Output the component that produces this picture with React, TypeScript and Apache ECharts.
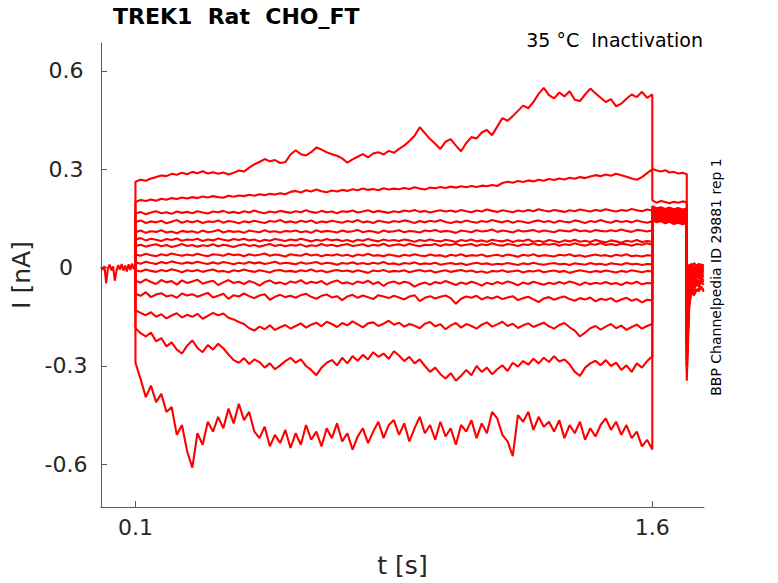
import React, { useEffect, useRef } from 'react';
import * as echarts from 'echarts';

// Holding period before the pulse (s, pA)
const PRE_T = [0, 0.005, 0.01, 0.015, 0.02, 0.025, 0.03, 0.035, 0.04, 0.045, 0.05, 0.055, 0.06, 0.065, 0.07, 0.075, 0.08, 0.085, 0.09, 0.095, 0.1];
const PRE_I = [2, -6, 5, -48, -3, 9, -8, 4, -40, -10, 8, -6, 11, -9, 6, -12, 10, -7, 12, -4, 0];

// Pulse window (s)
const PULSE_START = 0.1;
const PULSE_END = 1.6;

// Pulse currents per sweep (pA), evenly sampled from 0.1 s to 1.6 s
const PULSE_1 = [262, 268, 265, 272, 276, 281, 279, 286, 283, 289, 285,
  292, 288, 294, 287, 291, 286, 290, 284, 289, 296,
  293, 305, 315, 322, 331, 324, 328, 319, 322, 345,
  358, 346, 342, 352, 366, 360, 352, 346, 341, 333,
  320, 330, 338, 346, 336, 348, 352, 345, 356, 350,
  362, 372, 386, 402, 428, 410, 392, 378, 362, 384,
  392, 372, 355, 380, 398, 394, 412, 420, 404, 430,
  456, 448, 462, 478, 494, 486, 505, 530, 548, 526,
  516, 534, 522, 538, 512, 508, 528, 546, 532, 518,
  505, 514, 492, 500, 515, 528, 520, 536, 518, 528];
const PULSE_2 = [200, 206, 203, 208, 204, 210, 207, 212, 209, 214, 211,
  215, 212, 217, 214, 218, 215, 213, 219, 216, 220,
  218, 222, 219, 224, 221, 225, 223, 227, 224, 231,
  234, 229, 236, 232, 238, 233, 230, 235, 232, 237,
  234, 239, 236, 241, 237, 240, 236, 242, 238, 241,
  239, 243, 240, 245, 241, 238, 244, 242, 246, 243,
  247, 244, 248, 245, 249, 246, 250, 248, 252, 249,
  258, 262, 259, 264, 261, 266, 263, 268, 265, 270,
  267, 272, 269, 274, 271, 276, 273, 278, 282, 279,
  284, 280, 286, 282, 277, 272, 268, 276, 288, 300];
const PULSE_3 = [165, 170, 163, 168, 172, 166, 169, 164, 171, 167, 170,
  166, 172, 168, 165, 171, 169, 173, 167, 170, 166,
  172, 168, 174, 169, 166, 171, 168, 173, 170, 167,
  172, 169, 175, 170, 167, 173, 169, 171, 166, 172,
  170, 174, 168, 171, 175, 169, 173, 170, 167, 172,
  169, 174, 171, 176, 170, 173, 168, 172, 175, 171,
  174, 170, 176, 172, 169, 174, 171, 177, 173, 170,
  175, 172, 169, 174, 171, 176, 172, 178, 174, 171,
  176, 173, 170, 175, 172, 177, 174, 171, 176, 173,
  178, 174, 171, 176, 173, 179, 175, 172, 177, 174];
const PULSE_4 = [139, 144, 136, 141, 138, 143, 135, 140, 145, 137, 142,
  138, 143, 136, 141, 139, 144, 137, 142, 140, 135,
  141, 138, 143, 139, 136, 142, 140, 145, 138, 141,
  137, 143, 139, 144, 136, 141, 138, 143, 140, 137,
  142, 139, 145, 138, 141, 136, 143, 140, 137, 142,
  139, 144, 141, 136, 142, 138, 143, 140, 145, 139,
  136, 141, 138, 144, 140, 137, 142, 139, 145, 141,
  138, 143, 137, 142, 140, 136, 141, 144, 139, 142,
  137, 143, 140, 138, 144, 141, 136, 142, 139, 145,
  140, 137, 143, 139, 142, 138, 144, 140, 137, 141];
const PULSE_5 = [108, 113, 106, 111, 109, 114, 107, 110, 105, 112, 109,
  111, 106, 113, 108, 110, 115, 107, 112, 109, 111,
  106, 113, 110, 108, 114, 109, 111, 107, 112, 110,
  113, 108, 111, 106, 114, 109, 112, 110, 107, 113,
  109, 111, 115, 108, 112, 110, 106, 113, 109, 111,
  114, 108, 112, 110, 107, 113, 111, 115, 109, 112,
  110, 106, 113, 111, 108, 114, 110, 112, 116, 109,
  113, 111, 107, 114, 110, 112, 115, 109, 113, 111,
  108, 114, 112, 110, 116, 111, 113, 109, 115, 112,
  110, 114, 111, 116, 112, 109, 115, 113, 110, 114];
const PULSE_6 = [86, 90, 83, 88, 85, 81, 87, 84, 89, 82, 86,
  84, 88, 81, 86, 83, 89, 85, 82, 87, 84,
  88, 83, 86, 80, 85, 82, 87, 84, 81, 86,
  83, 88, 84, 80, 85, 82, 87, 83, 86, 81,
  84, 79, 85, 82, 87, 83, 80, 86, 82, 84,
  81, 86, 83, 79, 84, 81, 86, 82, 80, 85,
  82, 78, 84, 81, 86, 80, 83, 79, 85, 82,
  80, 84, 78, 83, 81, 86, 79, 82, 78, 84,
  81, 77, 83, 80, 85, 79, 82, 78, 84, 80,
  77, 83, 80, 76, 82, 79, 84, 78, 81, 79];
const PULSE_7 = [66, 70, 64, 68, 71, 65, 69, 63, 67, 72, 66,
  69, 64, 68, 66, 71, 65, 70, 67, 63, 68,
  71, 66, 69, 64, 68, 72, 66, 70, 65, 69,
  67, 71, 64, 68, 66, 72, 67, 70, 65, 69,
  72, 66, 68, 71, 65, 70, 67, 73, 66, 69,
  71, 67, 73, 68, 65, 70, 68, 72, 66, 71,
  69, 73, 67, 70, 72, 66, 71, 68, 74, 69,
  67, 72, 70, 66, 71, 69, 74, 68, 72, 70,
  73, 67, 71, 69, 74, 70, 67, 72, 70, 75,
  69, 72, 68, 73, 71, 67, 72, 70, 74, 70];
const PULSE_8 = [40, 36, 42, 38, 35, 41, 37, 43, 39, 36, 40,
  37, 42, 38, 35, 41, 39, 36, 42, 38, 40,
  35, 41, 37, 39, 43, 36, 40, 38, 34, 41,
  38, 36, 42, 37, 40, 35, 39, 37, 41, 36,
  39, 34, 40, 37, 42, 36, 38, 35, 40, 37,
  34, 39, 36, 41, 37, 35, 40, 36, 38, 33,
  39, 36, 41, 35, 38, 36, 40, 34, 37, 39,
  35, 40, 37, 33, 39, 36, 41, 35, 38, 36,
  34, 39, 37, 41, 35, 38, 33, 37, 40, 36,
  38, 34, 39, 36, 41, 35, 37, 34, 38, 36];
const PULSE_9 = [16, 12, 18, 14, 11, 17, 13, 19, 15, 12, 16,
  13, 18, 14, 11, 16, 12, 17, 14, 10, 15,
  12, 17, 13, 16, 11, 14, 18, 12, 15, 13,
  10, 16, 12, 14, 17, 11, 15, 13, 9, 14,
  12, 16, 11, 14, 10, 15, 12, 17, 11, 13,
  9, 14, 12, 16, 10, 13, 11, 15, 9, 12,
  14, 10, 13, 8, 12, 15, 11, 13, 9, 12,
  10, 14, 11, 8, 13, 10, 15, 11, 9, 12,
  14, 10, 12, 8, 13, 11, 9, 14, 10, 12,
  8, 13, 11, 9, 14, 10, 12, 8, 11, 10];
const PULSE_10 = [-8, -12, -6, -10, -13, -7, -11, -5, -9, -14, -8,
  -11, -7, -13, -9, -6, -12, -10, -14, -8, -11,
  -6, -10, -13, -8, -11, -15, -9, -7, -12, -10,
  -13, -8, -11, -6, -12, -9, -14, -10, -7, -11,
  -9, -13, -8, -12, -16, -9, -11, -7, -13, -10,
  -12, -8, -14, -10, -7, -12, -9, -15, -11, -8,
  -13, -10, -7, -12, -9, -14, -11, -16, -10, -12,
  -8, -13, -11, -9, -15, -10, -12, -8, -14, -11,
  -9, -13, -10, -16, -12, -8, -11, -14, -10, -13,
  -9, -12, -15, -10, -13, -8, -11, -14, -10, -12];
const PULSE_11 = [-40, -46, -36, -44, -50, -38, -45, -41, -52, -39, -47,
  -42, -37, -49, -44, -40, -53, -45, -38, -47, -43,
  -50, -41, -46, -55, -44, -39, -48, -45, -51, -42,
  -46, -38, -49, -43, -47, -41, -52, -44, -39, -48,
  -45, -51, -42, -47, -40, -50, -44, -56, -46, -42,
  -49, -43, -47, -58, -50, -45, -52, -44, -48, -41,
  -47, -53, -45, -50, -43, -48, -55, -46, -51, -44,
  -49, -42, -47, -54, -45, -50, -43, -48, -52, -46,
  -50, -44, -49, -42, -47, -53, -45, -51, -46, -49,
  -44, -50, -47, -53, -45, -49, -43, -51, -47, -48];
const PULSE_12 = [-80, -86, -75, -90, -82, -78, -88, -84, -92, -79, -85,
  -81, -89, -83, -77, -91, -86, -80, -95, -84, -88,
  -79, -87, -93, -85, -81, -98, -89, -83, -90, -86,
  -92, -84, -80, -89, -95, -86, -82, -91, -87, -99,
  -88, -83, -92, -85, -90, -96, -84, -88, -93, -86,
  -91, -97, -88, -84, -102, -92, -87, -94, -89, -85,
  -93, -110, -95, -88, -92, -86, -97, -90, -94, -88,
  -96, -91, -87, -99, -93, -89, -97, -105, -94, -90,
  -98, -92, -88, -96, -101, -93, -97, -91, -103, -95,
  -99, -93, -104, -97, -92, -101, -96, -106, -98, -100];
const PULSE_13 = [-130, -138, -145, -136, -150, -142, -155, -146, -139, -152, -144,
  -150, -141, -156, -147, -138, -145, -140, -153, -158, -166,
  -172, -185, -192, -180, -188, -176, -190, -182, -175, -186,
  -178, -170, -183, -174, -168, -179, -165, -172, -181, -169,
  -176, -164, -173, -182, -170, -167, -178, -171, -162, -174,
  -168, -180, -172, -177, -185, -171, -166, -179, -173, -188,
  -176, -169, -183, -172, -178, -186, -174, -167, -180, -173,
  -165, -178, -171, -184, -176, -170, -181, -174, -168, -179,
  -186, -175, -169, -182, -192, -210, -198, -185, -178, -189,
  -180, -172, -185, -177, -190, -181, -174, -186, -178, -172];
const PULSE_14 = [-185, -200, -210, -198, -225, -215, -240, -228, -250, -262, -238,
  -222, -245, -258, -236, -250, -232, -246, -265, -282, -290,
  -276, -294, -280, -288, -305, -292, -310, -298, -285, -275,
  -290, -280, -300, -312, -328, -305, -290, -282, -298, -275,
  -292, -270, -284, -266, -280, -258, -272, -262, -278, -255,
  -268, -285, -272, -292, -280, -300, -318, -305, -325, -338,
  -322, -345, -330, -312, -328, -300, -318, -305, -325, -310,
  -298, -315, -290, -302, -285, -296, -278, -292, -275, -288,
  -270, -286, -280, -295, -318, -330, -305, -292, -284, -298,
  -282, -300, -290, -312, -298, -318, -292, -305, -285, -270];
const PULSE_15 = [-290, -340, -395, -360, -410, -385, -440, -425, -510, -480, -560,
  -610, -505, -540, -470, -500, -455, -490, -430, -475, -415,
  -465, -440, -500, -520, -485, -545, -510, -535, -495, -550,
  -505, -540, -480, -525, -500, -545, -490, -520, -475, -530,
  -505, -555, -515, -490, -535, -500, -470, -520, -480, -465,
  -510, -475, -530, -490, -455, -505, -480, -525, -470, -515,
  -490, -540, -480, -500, -465, -520, -475, -505, -440, -460,
  -510, -530, -575, -450, -470, -440, -495, -455, -485, -470,
  -500, -465, -520, -480, -505, -470, -525, -490, -515, -480,
  -460, -495, -470, -510, -480, -520, -500, -545, -525, -555];
const PULSES = [PULSE_1, PULSE_2, PULSE_3, PULSE_4, PULSE_5, PULSE_6, PULSE_7, PULSE_8,
  PULSE_9, PULSE_10, PULSE_11, PULSE_12, PULSE_13, PULSE_14, PULSE_15];

// Test-pulse tail (1.6 s to 1.7 s), pA
const TAIL_T = [1.6, 1.6125, 1.625, 1.6375, 1.65, 1.6625, 1.675, 1.6875, 1.7];
const TAILS = [
  [302, 296, 293, 297, 290, 292, 287, 289, 285],
  [205, 198, 203, 200, 196, 201, 198, 202, 199],
  [187, 181, 184, 179, 183, 178, 182, 177, 180],
  [183, 176, 180, 175, 178, 174, 179, 172, 176],
  [178, 173, 176, 170, 175, 171, 174, 169, 172],
  [176, 168, 173, 167, 171, 166, 170, 165, 169],
  [172, 166, 169, 163, 168, 162, 167, 161, 164],
  [169, 161, 166, 160, 163, 158, 162, 157, 161],
  [165, 159, 162, 156, 161, 155, 159, 154, 157],
  [162, 154, 159, 152, 157, 151, 155, 150, 154],
  [158, 152, 155, 149, 153, 147, 152, 146, 149],
  [156, 148, 152, 145, 150, 144, 148, 143, 146],
  [152, 145, 149, 141, 146, 140, 145, 138, 142],
  [149, 141, 145, 139, 142, 137, 141, 135, 139],
  [146, 138, 142, 135, 140, 133, 137, 132, 136],
];

// After the test pulse (1.7 s onwards), pA
const POST_T = [1.7, 1.707, 1.714, 1.721, 1.728, 1.735, 1.742, 1.749];
const POSTS = [
  [-120, 10, 2, 14, 5, 12, 3, 9],
  [-150, 4, 12, -2, 8, 1, 10, 5],
  [-180, -8, 6, -4, 9, 0, 7, -3],
  [-200, -15, 2, -10, 5, -6, 3, -2],
  [-220, -20, -5, -14, 0, -9, -2, -6],
  [-240, -28, -8, -18, -4, -12, -6, -10],
  [-260, -35, -14, -24, -9, -16, -8, -13],
  [-280, -45, -20, -30, -15, -22, -12, -18],
  [-300, -55, -26, -36, -20, -28, -18, -24],
  [-320, -70, -34, -44, -26, -34, -22, -30],
  [-345, -125, -60, -72, -48, -58, -44, -52],
  [-300, -95, -50, -62, -40, -50, -38, -45],
  [-270, -80, -42, -55, -35, -44, -30, -40],
  [-250, -110, -75, -85, -66, -72, -60, -68],
  [-230, -100, -68, -80, -70, -64, -58, -74],
];

const X_TICKS = [0.1, 1.6];
const Y_TICKS = [-0.6, -0.3, 0, 0.3, 0.6];

const TITLE = 'TREK1  Rat  CHO_FT';
const SUBTITLE = '35 °C  Inactivation';
const SIDE_NOTE = 'BBP Channelpedia ID 29881 rep 1';

const FONT = '"DejaVu Sans", Verdana, sans-serif';
const TRACE_COLOR = '#ff0000';

export default function App() {
  const ref = useRef<HTMLDivElement>(null);

  useEffect(() => {
    if (!ref.current) return;
    const chart = echarts.init(ref.current, undefined, { renderer: 'svg' });

    const lineStyle = { color: TRACE_COLOR, width: 2.1 };
    const series: any[] = [];
    series.push({
      type: 'line',
      data: PRE_T.map((t, i) => [t, PRE_I[i] / 1000]),
      showSymbol: false,
      silent: true,
      lineStyle,
    });
    PULSES.forEach((pulse, k) => {
      const n = pulse.length;
      const data: number[][] = [[PULSE_START, 0]];
      pulse.forEach((v, i) => {
        data.push([PULSE_START + ((PULSE_END - PULSE_START) * i) / (n - 1), v / 1000]);
      });
      TAIL_T.forEach((t, j) => data.push([t, TAILS[k][j] / 1000]));
      POST_T.forEach((t, j) => data.push([t, POSTS[k][j] / 1000]));
      series.push({
        type: 'line',
        data,
        showSymbol: false,
        silent: true,
        lineStyle,
      });
    });

    const axisColor = '#5a5a5a';
    const labelColor = '#262626';

    chart.setOption({
      animation: false,
      grid: { left: 101, right: 74, top: 43, bottom: 72, containLabel: false },
      xAxis: {
        type: 'value',
        min: 0,
        max: 1.75,
        name: 't [s]',
        nameLocation: 'middle',
        nameGap: 46,
        nameTextStyle: { fontFamily: FONT, fontSize: 25, color: labelColor },
        axisLine: { show: true, onZero: false, lineStyle: { color: axisColor, width: 1 } },
        axisTick: { show: true, inside: true, length: 6, customValues: X_TICKS, lineStyle: { color: axisColor } },
        axisLabel: {
          customValues: X_TICKS,
          fontFamily: FONT,
          fontSize: 22,
          color: labelColor,
          margin: 9,
          formatter: (v: number) => String(Math.round(v * 10) / 10),
        },
        splitLine: { show: false },
      },
      yAxis: {
        type: 'value',
        min: -0.73,
        max: 0.685,
        name: 'I [nA]',
        nameLocation: 'middle',
        nameGap: 58,
        nameRotate: 90,
        nameTextStyle: { fontFamily: FONT, fontSize: 25, color: labelColor },
        axisLine: { show: true, onZero: false, lineStyle: { color: axisColor, width: 1 } },
        axisTick: { show: true, inside: true, length: 6, customValues: Y_TICKS, lineStyle: { color: axisColor } },
        axisLabel: {
          customValues: Y_TICKS,
          fontFamily: FONT,
          fontSize: 22,
          color: labelColor,
          margin: 35,
          align: 'center',
          formatter: (v: number) => String(Math.round(v * 10) / 10),
        },
        splitLine: { show: false },
      },
      graphic: [
        {
          type: 'text',
          left: 113,
          top: 5,
          style: { text: TITLE, font: `bold 22px ${FONT}`, fill: '#000' },
        },
        {
          type: 'text',
          right: 75,
          top: 30,
          style: { text: SUBTITLE, font: `19px ${FONT}`, fill: '#000' },
        },
        {
          type: 'text',
          x: 716,
          y: 277,
          rotation: Math.PI / 2,
          style: {
            text: SIDE_NOTE,
            font: `14px ${FONT}`,
            fill: '#000',
            align: 'center',
            verticalAlign: 'middle',
          },
        },
      ],
      series,
    });

    return () => chart.dispose();
  }, []);

  return (
    <div
      ref={ref}
      style={{ position: 'fixed', left: 0, top: 0, width: 778, height: 583, background: '#fff' }}
    />
  );
}
